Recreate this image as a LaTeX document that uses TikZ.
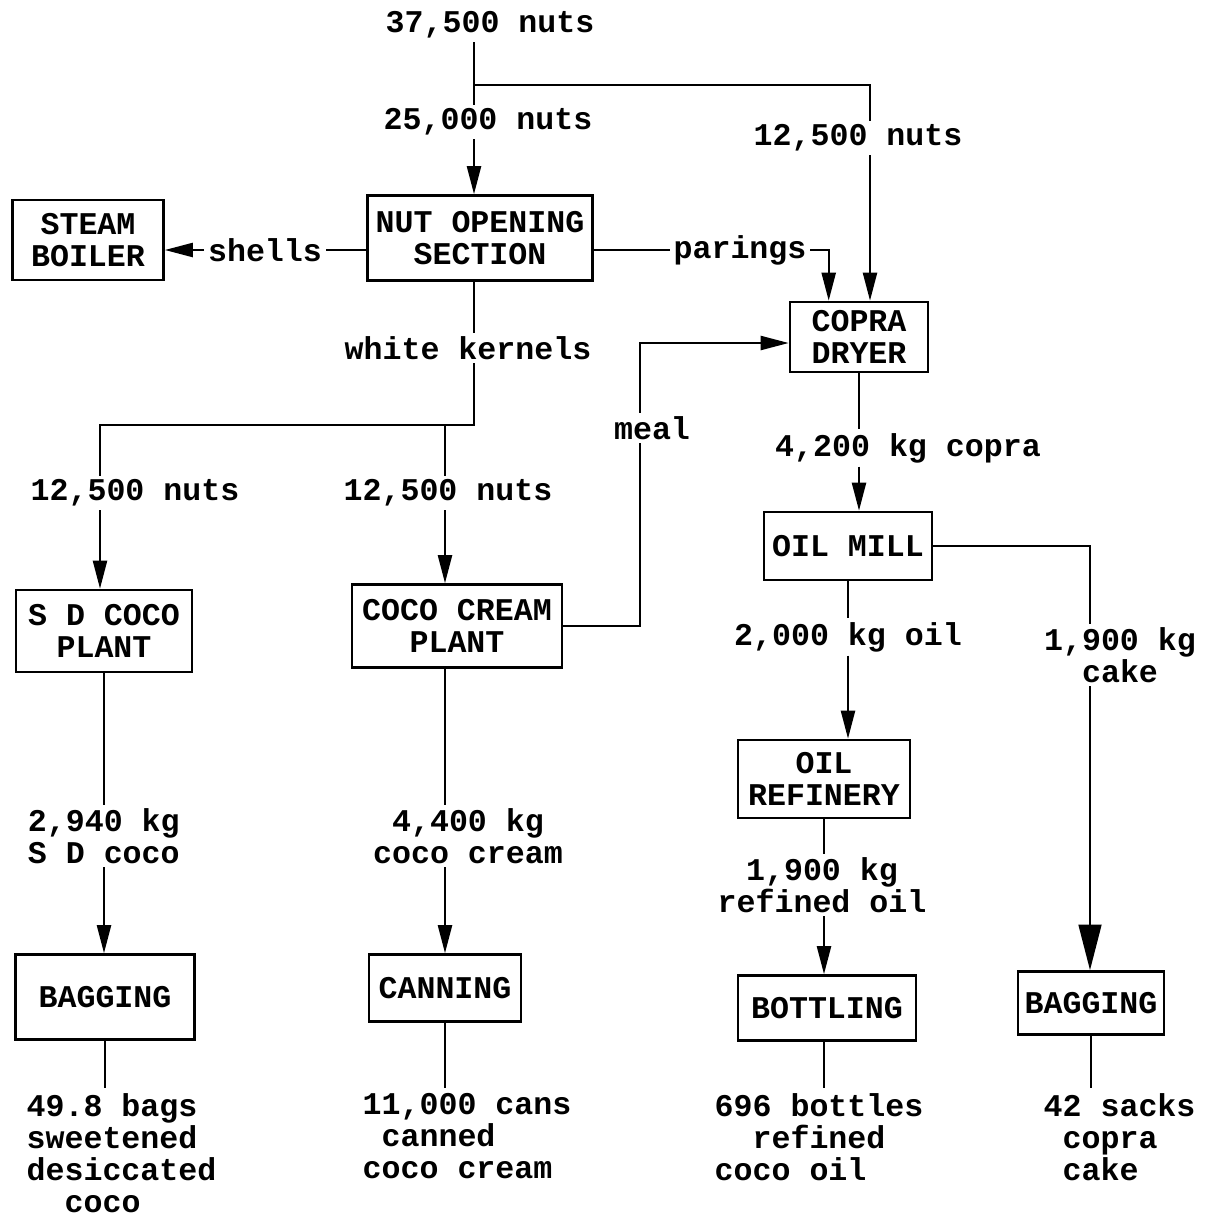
\documentclass[tikz,border=0pt]{standalone}
\usepackage{fontspec}
\setmonofont{Liberation Mono}
\usepackage{tikz}
\usetikzlibrary{positioning, arrows.meta, calc}
\newcommand{\typefont}{\ttfamily\bfseries\fontsize{18}{18.2}\selectfont}
\tikzset{flowsheet/.style={
    x=0.02cm, y=-0.02cm,
    process/.style={rectangle, draw=black, line width=1.5pt, inner sep=0pt, align=center, font=\typefont},
    qty/.style={inner sep=2pt, align=center, font=\typefont},
    product/.style={inner sep=3pt, align=left, anchor=north west, font=\typefont},
    pipe/.style={line width=1.3pt, black},
    feed/.style={pipe, -{Triangle[width=8pt, length=16pt]}},
    bigfeed/.style={pipe, -{Triangle[width=13pt, length=26pt]}},
}}

\begin{document}
\begin{tikzpicture}[flowsheet]
    \useasboundingbox (0,0) rectangle (1208,1221);

    % process boxes
    \node[process, minimum width=3.02cm, minimum height=1.6cm] (steam) at (88,240) {STEAM\\BOILER};
    \node[process, minimum width=4.5cm, minimum height=1.7cm] (nutopen) at (480,238) {NUT OPENING\\SECTION};
    \node[process, minimum width=2.76cm, minimum height=1.4cm] (dryer) at (859,337) {COPRA\\DRYER};
    \node[process, minimum width=3.36cm, minimum height=1.36cm] (oilmill) at (848,546) {OIL MILL};
    \node[process, minimum width=3.52cm, minimum height=1.64cm] (sdplant) at (104,631) {S D COCO\\PLANT};
    \node[process, minimum width=4.2cm, minimum height=1.66cm] (creamplant) at (457,626) {COCO CREAM\\PLANT};
    \node[process, minimum width=3.44cm, minimum height=1.56cm] (refinery) at (824,779) {OIL\\REFINERY};
    \node[process, minimum width=3.58cm, minimum height=1.7cm] (bagsd) at (105,997) {BAGGING};
    \node[process, minimum width=3.04cm, minimum height=1.34cm] (canning) at (445,988) {CANNING};
    \node[process, minimum width=3.56cm, minimum height=1.3cm] (bottling) at (827,1008) {BOTTLING};
    \node[process, minimum width=2.92cm, minimum height=1.26cm] (bagcake) at (1091,1003) {BAGGING};

    % stream labels
    \node[qty] (total) at (490,25) {37,500 nuts};
    \node[qty] (nutsL) at (488,122) {25,000 nuts};
    \node[qty] (nutsR) at (858,138) {12,500 nuts};
    \node[qty] (shells) at (265,250) {shells};
    \node[qty] (parings) at (740,250) {parings};
    \node[qty] (kernels) at (468,348) {white kernels};
    \node[qty] (nutsA) at (135,493) {12,500 nuts};
    \node[qty] (nutsB) at (448,493) {12,500 nuts};
    \node[qty] (meal) at (652,428) {meal};
    \node[qty] (copra) at (908,448) {4,200 kg copra};
    \node[qty] (oil) at (848,637) {2,000 kg oil};
    \node[qty] (cake) at (1120,655) {1,900 kg\\cake};
    \node[qty, anchor=west, align=left] (sdcoco) at (24,836) {2,940 kg\\S D coco};
    \node[qty] (cream) at (468,836) {4,400 kg\\coco cream};
    \node[qty] (refoil) at (822,885) {1,900 kg\\refined oil};

    % products
    \node[product] (out1) at (21,1088) {49.8 bags\\sweetened\\desiccated\\\ \ coco};
    \node[product] (out2) at (357,1088) {11,000 cans\\\ canned\\coco cream};
    \node[product] (out3) at (709,1088) {696 bottles\\\ \ refined\\coco oil};
    \node[product] (out4) at (1038,1088) {42 sacks\\\ copra\\\ cake};

    % turning points
    \coordinate (split) at (474,85);
    \coordinate (turnR) at (870,85);
    \coordinate (kjoin) at (474,425);
    \coordinate (kleft) at (100,425);
    \coordinate (kmid) at (445,425);
    \coordinate (mlow) at (640,626);
    \coordinate (mturn) at (640,343);
    \coordinate (cturn) at (1090,546);

    % incoming nuts
    \draw[pipe] (split |- total.south) -- (split |- nutsL.north);
    \draw[feed] (split |- nutsL.south) -- (split |- nutopen.north);
    \draw[pipe] (split) -- (turnR) -- (turnR |- nutsR.north);
    \draw[feed] (turnR |- nutsR.south) -- (turnR |- dryer.north);

    % nut opening outputs
    \draw[pipe] (shells -| nutopen.west) -- (shells.east);
    \draw[feed] (shells.west) -- (shells -| steam.east);
    \draw[pipe] (parings -| nutopen.east) -- (parings.west);
    \draw[feed] (parings.east) -| ($(dryer.north west)+(40,0)$);
    \draw[pipe] (split |- nutopen.south) -- (split |- kernels.north);
    \draw[pipe] (split |- kernels.south) -- (kjoin) -- (kleft) -- (kleft |- nutsA.north);
    \draw[feed] (kleft |- nutsA.south) -- (kleft |- sdplant.north);
    \draw[pipe] (kmid) -- (kmid |- nutsB.north);
    \draw[feed] (kmid |- nutsB.south) -- (kmid |- creamplant.north);

    % meal back to dryer
    \draw[pipe] (creamplant.east |- mlow) -- (mlow) -- (mlow |- meal.south);
    \draw[feed] (mlow |- meal.north) -- (mturn) -- (mturn -| dryer.west);

    % copra line
    \draw[pipe] (dryer.south) -- (dryer.south |- copra.north);
    \draw[feed] (dryer.south |- copra.south) -- (dryer.south |- oilmill.north);
    \draw[pipe] (oilmill.south -| oil.north) -- (oil.north);
    \draw[feed] (oil.south) -- (oil.south |- refinery.north);
    \draw[pipe] (refinery.south) -- (refinery.south |- refoil.north);
    \draw[feed] (refinery.south |- refoil.south) -- (refinery.south |- bottling.north);
    \draw[pipe] (oilmill.east |- cturn) -- (cturn) -- (cturn |- cake.north);
    \draw[bigfeed] (cturn |- cake.south) -- (cturn |- bagcake.north);

    % desiccated coco and coco cream lines
    \draw[pipe] (sdplant.south) -- (sdplant.south |- sdcoco.north);
    \draw[feed] (sdplant.south |- sdcoco.south) -- (sdplant.south |- bagsd.north);
    \draw[pipe] (canning.north |- creamplant.south) -- (canning.north |- cream.north);
    \draw[feed] (canning.north |- cream.south) -- (canning.north);

    % to products
    \draw[pipe] (bagsd.south) -- (bagsd.south |- out1.north);
    \draw[pipe] (canning.south) -- (canning.south |- out2.north);
    \draw[pipe] (bottling.south -| refinery.south) -- (refinery.south |- out3.north);
    \draw[pipe] (bagcake.south) -- (bagcake.south |- out4.north);
\end{tikzpicture}
\end{document}
